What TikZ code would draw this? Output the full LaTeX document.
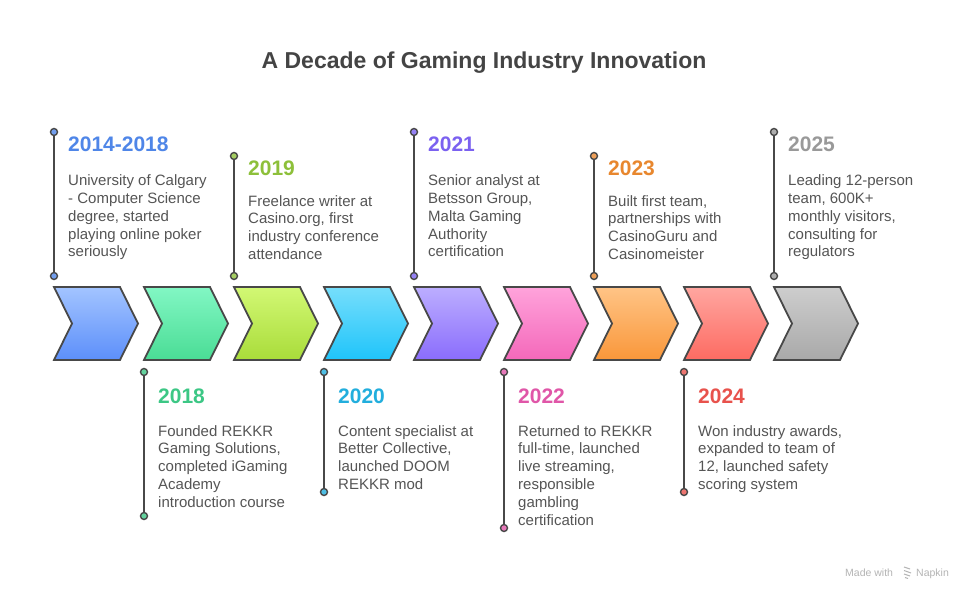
\documentclass[tikz,border=0pt]{standalone}
\usepackage{fontspec}
\setmainfont{Liberation Sans}
\definecolor{edge}{HTML}{484848}
\definecolor{bodytxt}{HTML}{555555}
\definecolor{titlec}{HTML}{444444}
\definecolor{wmc}{HTML}{B4B4B4}
% year colours
\definecolor{yA}{HTML}{4F86E8}
\definecolor{yB}{HTML}{3CC785}
\definecolor{yC}{HTML}{8DC03A}
\definecolor{yD}{HTML}{22AEDD}
\definecolor{yE}{HTML}{7B61F0}
\definecolor{yF}{HTML}{E056A8}
\definecolor{yG}{HTML}{E8872E}
\definecolor{yH}{HTML}{E8524C}
\definecolor{yI}{HTML}{999999}
% chevron gradients
\definecolor{tA}{HTML}{A3C4FF}\definecolor{bA}{HTML}{5C8FFA}
\definecolor{tB}{HTML}{82F7C4}\definecolor{bB}{HTML}{4ADC95}
\definecolor{tC}{HTML}{D2F874}\definecolor{bC}{HTML}{A9DC3A}
\definecolor{tD}{HTML}{76DEFB}\definecolor{bD}{HTML}{1FC4FA}
\definecolor{tE}{HTML}{BCAEFF}\definecolor{bE}{HTML}{8A6CFC}
\definecolor{tF}{HTML}{FFA3DB}\definecolor{bF}{HTML}{F468BA}
\definecolor{tG}{HTML}{FFC486}\definecolor{bG}{HTML}{F9973A}
\definecolor{tH}{HTML}{FFA6A0}\definecolor{bH}{HTML}{FD6B62}
\definecolor{tI}{HTML}{CDCDCD}\definecolor{bI}{HTML}{A9A9A9}
\newcommand\mychev[3]{%
  \path[chev, top color=#2, bottom color=#3] (#1,287) -- ++(66,0) -- ++(18,36.5) -- ++(-18,36.5) -- ++(-66,0) -- ++(18,-36.5) -- cycle;}
\newcommand\vl[1]{\vtop{\let\\\cr\halign{##\hfil\cr#1\crcr}}}
\begin{document}
\begin{tikzpicture}[x=1pt,y=-1pt,
  chev/.style={draw=edge, line width=1.8pt, line join=miter},
  stem/.style={draw=edge, line width=2.3pt},
  dot/.style={circle, draw=edge, line width=1.4pt, inner sep=0pt, minimum size=7pt},
  yr/.style={anchor=base west, inner sep=0pt, font=\fontsize{21}{21}\selectfont\bfseries},
  body/.style={anchor=base west, inner sep=0pt, text=bodytxt, font=\fontsize{15}{17.8}\selectfont},
  ]
\useasboundingbox[fill=white] (0,0) rectangle (978,600);

\node[anchor=base, inner sep=0pt, text=titlec, font=\fontsize{23}{23}\selectfont\bfseries] (title) at (484,68.5) {A Decade of Gaming Industry Innovation};

% chevrons
\mychev{54}{tA}{bA}
\mychev{144}{tB}{bB}
\mychev{234}{tC}{bC}
\mychev{324}{tD}{bD}
\mychev{414}{tE}{bE}
\mychev{504}{tF}{bF}
\mychev{594}{tG}{bG}
\mychev{684}{tH}{bH}
\mychev{774}{tI}{bI}

% stems (top)
\node[dot, fill=yA!80!white] (dAt) at (54,132) {};
\node[dot, fill=yA!80!white] (dAb) at (54,276) {};
\draw[stem] (dAt) -- (dAb);
\node[dot, fill=yC!80!white] (dCt) at (234,156) {};
\node[dot, fill=yC!80!white] (dCb) at (234,276) {};
\draw[stem] (dCt) -- (dCb);
\node[dot, fill=yE!80!white] (dEt) at (414,132) {};
\node[dot, fill=yE!80!white] (dEb) at (414,276) {};
\draw[stem] (dEt) -- (dEb);
\node[dot, fill=yG!80!white] (dGt) at (594,156) {};
\node[dot, fill=yG!80!white] (dGb) at (594,276) {};
\draw[stem] (dGt) -- (dGb);
\node[dot, fill=yI!80!white] (dIt) at (774,132) {};
\node[dot, fill=yI!80!white] (dIb) at (774,276) {};
\draw[stem] (dIt) -- (dIb);
% stems (bottom)
\node[dot, fill=yB!80!white] (dBt) at (144,372) {};
\node[dot, fill=yB!80!white] (dBb) at (144,516) {};
\draw[stem] (dBt) -- (dBb);
\node[dot, fill=yD!80!white] (dDt) at (324,372) {};
\node[dot, fill=yD!80!white] (dDb) at (324,492) {};
\draw[stem] (dDt) -- (dDb);
\node[dot, fill=yF!80!white] (dFt) at (504,372) {};
\node[dot, fill=yF!80!white] (dFb) at (504,528) {};
\draw[stem] (dFt) -- (dFb);
\node[dot, fill=yH!80!white] (dHt) at (684,372) {};
\node[dot, fill=yH!80!white] (dHb) at (684,492) {};
\draw[stem] (dHt) -- (dHb);

% texts top
\node[yr, text=yA] (yrA) at (68,151.7) {2014-2018};
\node[body] (txA) at (68,185.7) {\vl{University of Calgary\\- Computer Science\\degree, started\\playing online poker\\seriously}};
\node[yr, text=yC] (yrC) at (248,175.7) {2019};
\node[body] (txC) at (248,206) {\vl{Freelance writer at\\Casino.org, first\\industry conference\\attendance}};
\node[yr, text=yE] (yrE) at (428,151.7) {2021};
\node[body] (txE) at (428,185.7) {\vl{Senior analyst at\\Betsson Group,\\Malta Gaming\\Authority\\certification}};
\node[yr, text=yG] (yrG) at (608,175.7) {2023};
\node[body] (txG) at (608,206) {\vl{Built first team,\\partnerships with\\CasinoGuru and\\Casinomeister}};
\node[yr, text=yI] (yrI) at (788,151.7) {2025};
\node[body] (txI) at (788,185.7) {\vl{Leading 12-person\\team, 600K+\\monthly visitors,\\consulting for\\regulators}};
% texts bottom
\node[yr, text=yB] (yrB) at (158,403.3) {2018};
\node[body] (txB) at (158,436) {\vl{Founded REKKR\\Gaming Solutions,\\completed iGaming\\Academy\\introduction course}};
\node[yr, text=yD] (yrD) at (338,403.3) {2020};
\node[body] (txD) at (338,436) {\vl{Content specialist at\\Better Collective,\\launched DOOM\\REKKR mod}};
\node[yr, text=yF] (yrF) at (518,403.3) {2022};
\node[body] (txF) at (518,436) {\vl{Returned to REKKR\\full-time, launched\\live streaming,\\responsible\\gambling\\certification}};
\node[yr, text=yH] (yrH) at (698,403.3) {2024};
\node[body] (txH) at (698,436) {\vl{Won industry awards,\\expanded to team of\\12, launched safety\\scoring system}};

% watermark
\node[anchor=base west, inner sep=0pt, text=wmc, font=\fontsize{10.5}{10.5}\selectfont] (wmA) at (845,576) {Made with};
\node[anchor=base west, inner sep=0pt, text=wmc, font=\fontsize{10.5}{10.5}\selectfont] (wmB) at (916,576) {Napkin};
\draw[wmc, line width=1pt] (904,567) -- (910,569) (904,570.5) -- (911,573) (904,574) -- (910,576) (905,577.5) -- (908,578.5);
\end{tikzpicture}
\end{document}
